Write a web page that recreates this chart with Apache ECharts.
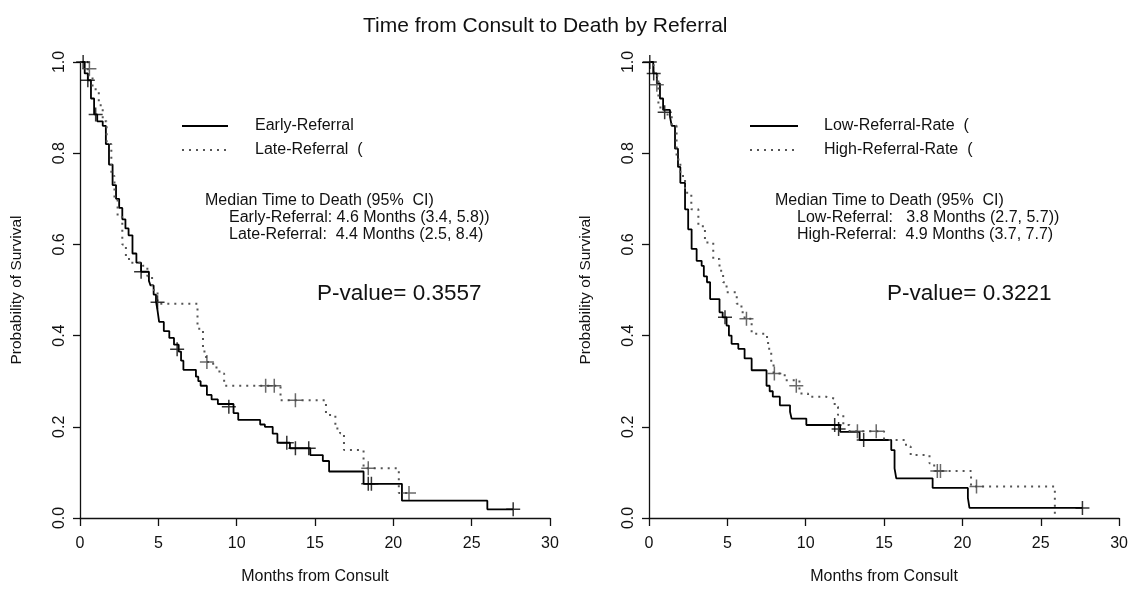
<!DOCTYPE html>
<html>
<head>
<meta charset="utf-8">
<script src="https://cdn.jsdelivr.net/npm/echarts@6.0.0/dist/echarts.min.js"></script>
<style>
  html, body { margin: 0; padding: 0; background: #fff; }
  #chart { width: 1131px; height: 590px; }
</style>
</head>
<body>
<div id="chart"></div>
<script>
// ticks
const xTicks = [0, 5, 10, 15, 20, 25, 30];
const yTicks = [0, 0.2, 0.4, 0.6, 0.8, 1.0];

// left panel: Early vs Late referral, [month, survival]
const earlyCurve = [
  [0, 1], [0.3, 0.975], [0.5, 0.96], [0.7, 0.92], [0.9, 0.885], [1.1, 0.87], [1.45, 0.86],
  [1.65, 0.82], [1.85, 0.775], [2.08, 0.73], [2.3, 0.70], [2.5, 0.68], [2.7, 0.655],
  [2.9, 0.635], [3.1, 0.62], [3.35, 0.58], [3.6, 0.56], [3.9, 0.54], [4.4, 0.52], [4.5, 0.51],
  [4.7, 0.49], [4.85, 0.475], [4.95, 0.455], [5.05, 0.43], [5.35, 0.41], [5.7, 0.395],
  [6.0, 0.38], [6.3, 0.365], [6.45, 0.345], [6.6, 0.325], [7.4, 0.31], [7.55, 0.30],
  [7.7, 0.29], [8.1, 0.27], [8.4, 0.26], [8.8, 0.25], [9.8, 0.23], [10.1, 0.215],
  [11.5, 0.205], [11.8, 0.20], [12.3, 0.185], [12.6, 0.165], [13.4, 0.153], [14.7, 0.138],
  [15.5, 0.125], [15.9, 0.102], [18.1, 0.075], [20.55, 0.038], [26.0, 0.019], [27.65, 0.019]
];
const earlyCensor = [
  [0.2, 1.0], [0.5, 0.96], [1.0, 0.885], [3.9, 0.54], [4.95, 0.473], [6.2, 0.37], [9.5, 0.244],
  [13.2, 0.165], [13.75, 0.153], [14.6, 0.153], [18.4, 0.075], [18.6, 0.075], [27.65, 0.019]
];
const lateCurve = [
  [0, 1], [0.5, 0.97], [0.8, 0.94], [1.2, 0.905], [1.45, 0.87], [1.7, 0.82], [2.0, 0.75],
  [2.2, 0.70], [2.4, 0.66], [2.7, 0.60], [2.93, 0.568], [3.25, 0.56], [4.0, 0.553],
  [4.3, 0.53], [4.6, 0.50], [4.95, 0.47], [7.5, 0.415], [7.85, 0.365], [8.05, 0.342],
  [8.5, 0.33], [8.9, 0.317], [9.2, 0.29], [12.8, 0.258], [15.7, 0.226], [16.3, 0.196],
  [16.6, 0.186], [16.85, 0.149], [18.1, 0.109], [20.35, 0.055], [21.0, 0.055]
];
const lateCensor = [
  [0.6, 0.985], [8.1, 0.342], [11.85, 0.29], [12.4, 0.29], [13.75, 0.258], [18.4, 0.109], [21.0, 0.055]
];

// right panel: Low vs High referral rate
const lowCurve = [
  [0, 1], [0.27, 0.975], [0.5, 0.953], [0.7, 0.92], [0.9, 0.895], [1.34, 0.88], [1.45, 0.86],
  [1.66, 0.81], [1.85, 0.77], [2.0, 0.735], [2.3, 0.677], [2.5, 0.633], [2.72, 0.59],
  [3.04, 0.564], [3.36, 0.553], [3.5, 0.53], [3.7, 0.517], [3.9, 0.48], [4.5, 0.451],
  [4.7, 0.44], [4.95, 0.422], [5.1, 0.40], [5.27, 0.382], [5.7, 0.371], [6.1, 0.35],
  [6.55, 0.324], [7.5, 0.29], [7.7, 0.278], [7.9, 0.266], [8.35, 0.247], [9.0, 0.233],
  [9.1, 0.218], [10.04, 0.204], [12.2, 0.189], [13.44, 0.171], [15.46, 0.149], [15.67, 0.109],
  [15.78, 0.087], [18.1, 0.066], [20.35, 0.044], [20.45, 0.022], [27.66, 0.022]
];
const lowCensor = [
  [0.05, 1.0], [0.3, 0.975], [1.0, 0.89], [4.85, 0.44], [11.85, 0.204], [12.1, 0.195],
  [13.7, 0.171], [27.66, 0.022]
];
const highCurve = [
  [0, 1], [0.3, 0.97], [0.6, 0.90], [1.0, 0.885], [1.45, 0.86], [1.76, 0.786], [2.0, 0.75],
  [2.3, 0.713], [2.7, 0.677], [3.15, 0.64], [3.57, 0.604], [4.1, 0.568], [4.5, 0.542],
  [4.73, 0.517], [4.95, 0.495], [5.6, 0.47], [5.9, 0.451], [6.1, 0.437], [6.55, 0.404],
  [7.4, 0.397], [7.6, 0.371], [7.8, 0.338], [7.95, 0.317], [8.66, 0.302], [9.6, 0.273],
  [10.15, 0.266], [11.3, 0.262], [11.85, 0.244], [12.06, 0.226], [12.4, 0.204], [12.8, 0.19],
  [15.0, 0.171], [16.4, 0.157], [16.7, 0.138], [17.9, 0.12], [18.2, 0.103], [20.55, 0.069],
  [25.9, 0.0]
];
const highCensor = [
  [0.5, 0.95], [6.22, 0.437], [8.0, 0.317], [9.4, 0.29], [13.3, 0.19], [14.5, 0.19],
  [18.4, 0.103], [18.6, 0.103], [20.9, 0.069]
];

const FONT = "'Liberation Sans', Arial, sans-serif";
const cross = 'path://M6.25,0H7.75V14H6.25Z M0,6.25H14V7.75H0Z';

function xAxisFor(gi) {
  return {
    type: 'value', gridIndex: gi, min: 0, max: 30, interval: 5,
    name: 'Months from Consult', nameLocation: 'middle', nameGap: 51,
    nameTextStyle: { fontFamily: FONT, fontSize: 16, color: '#111' },
    axisLine: { lineStyle: { color: '#111', width: 1.3 } },
    axisTick: { length: 8, lineStyle: { color: '#111', width: 1.3 } },
    axisLabel: { margin: 18, fontFamily: FONT, fontSize: 16, color: '#111' },
    splitLine: { show: false }
  };
}
function yAxisFor(gi) {
  return {
    type: 'value', gridIndex: gi, min: 0, max: 1, interval: 0.2,
    name: 'Probability of Survival', nameLocation: 'middle', nameGap: 55,
    nameTextStyle: { fontFamily: FONT, fontSize: 15.5, color: '#111' },
    axisLine: { show: true, lineStyle: { color: '#111', width: 1.3 } },
    axisTick: { show: true, length: 7, lineStyle: { color: '#111', width: 1.3 } },
    axisLabel: { rotate: 90, margin: 12, fontFamily: FONT, fontSize: 16, color: '#111',
      formatter: v => v.toFixed(1) },
    splitLine: { show: false }
  };
}
function solid(name, data, i) {
  return { name: name, type: 'line', step: 'end', data: data, xAxisIndex: i, yAxisIndex: i,
    symbol: 'none', lineStyle: { color: '#000', width: 1.8, type: 'solid' },
    itemStyle: { color: '#000' }, silent: true };
}
function dotted(name, data, i) {
  return { name: name, type: 'line', step: 'end', data: data, xAxisIndex: i, yAxisIndex: i,
    symbol: 'none', lineStyle: { color: '#555', width: 2, type: [2, 5] },
    itemStyle: { color: '#555' }, silent: true };
}
function censor(name, data, i, color) {
  return { name: name, type: 'scatter', data: data, xAxisIndex: i, yAxisIndex: i,
    symbol: cross, symbolSize: 14, itemStyle: { color: color }, silent: true, z: 3 };
}
function note(x, y, text, size) {
  return { type: 'text', left: x, top: y,
    style: { text: text, font: size + 'px ' + FONT, fill: '#111' } };
}

document.addEventListener("DOMContentLoaded", () => {
  echarts.init(document.querySelector("#chart")).setOption({
    animation: false,
    title: {
      text: 'Time from Consult to Death by Referral', left: 358, top: 11,
      textStyle: { fontFamily: FONT, fontSize: 21, fontWeight: 'normal', color: '#111' }
    },
    grid: [
      { left: 80, top: 62, width: 470, height: 458 },
      { left: 649, top: 62, width: 471, height: 458 }
    ],
    xAxis: [xAxisFor(0), xAxisFor(1)],
    yAxis: [yAxisFor(0), yAxisFor(1)],
    legend: [
      { data: ['Early-Referral', 'Late-Referral  ('], orient: 'vertical', left: 181, top: 118,
        padding: 0, itemWidth: 46, itemHeight: 14, itemGap: 8, selectedMode: false,
        itemStyle: { opacity: 0 },
        textStyle: { fontFamily: FONT, fontSize: 16, color: '#111', padding: [0, 0, 0, 22] } },
      { data: ['Low-Referral-Rate  (', 'High-Referral-Rate  ('], orient: 'vertical', left: 749, top: 118,
        padding: 0, itemWidth: 48, itemHeight: 14, itemGap: 8, selectedMode: false,
        itemStyle: { opacity: 0 },
        textStyle: { fontFamily: FONT, fontSize: 16, color: '#111', padding: [0, 0, 0, 21] } }
    ],
    series: [
      solid('Early-Referral', earlyCurve, 0),
      dotted('Late-Referral  (', lateCurve, 0),
      censor('early censored', earlyCensor, 0, '#000'),
      censor('late censored', lateCensor, 0, '#444'),
      solid('Low-Referral-Rate  (', lowCurve, 1),
      dotted('High-Referral-Rate  (', highCurve, 1),
      censor('low censored', lowCensor, 1, '#000'),
      censor('high censored', highCensor, 1, '#444')
    ],
    graphic: [
      note(205, 193, 'Median Time to Death (95%  CI)', 16),
      note(229, 210, 'Early-Referral: 4.6 Months (3.4, 5.8))', 16),
      note(229, 227, 'Late-Referral:  4.4 Months (2.5, 8.4)', 16),
      note(317, 282, 'P-value= 0.3557', 22.5),
      note(775, 193, 'Median Time to Death (95%  CI)', 16),
      note(797, 210, 'Low-Referral:   3.8 Months (2.7, 5.7))', 16),
      note(797, 227, 'High-Referral:  4.9 Months (3.7, 7.7)', 16),
      note(887, 282, 'P-value= 0.3221', 22.5)
    ]
  });
});
</script>
</body>
</html>
